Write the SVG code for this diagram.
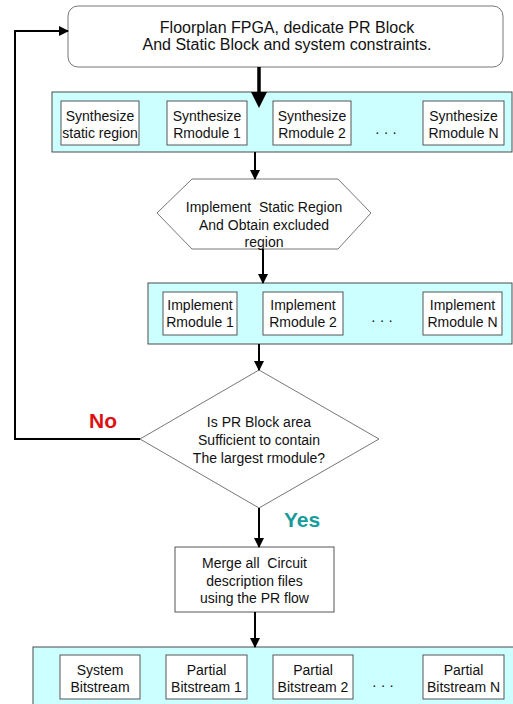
<svg xmlns="http://www.w3.org/2000/svg" width="513" height="704" viewBox="0 0 513 704">
<style>
text{font-family:"Liberation Sans",Arial,sans-serif;font-size:14px;fill:#111;text-anchor:middle;white-space:pre}
.big{font-size:16px}
.panel{fill:#ccffff;stroke:#4a4a4a;stroke-width:1}
.box{fill:#fff;stroke:#555;stroke-width:1}
.shape{fill:#fff;stroke:#777;stroke-width:1}
.conn{fill:none;stroke:#000;stroke-width:2}
.no{fill:#dd1111;font-size:21px;font-weight:bold;text-anchor:start}
.yes{fill:#179c9c;font-size:21px;font-weight:bold;text-anchor:start}
</style>
<defs>
<marker id="ah" markerWidth="10" markerHeight="10" refX="9" refY="5" orient="auto" markerUnits="userSpaceOnUse">
<path d="M0,0 L10,5 L0,10 Z" fill="#000"/>
</marker>
</defs>
<rect width="513" height="704" fill="#fff"/>

<g id="floorplan">
<rect class="shape" x="68" y="6" width="435" height="61" rx="10" ry="10" stroke="#666"/>
<text class="big" x="287" y="33">Floorplan FPGA, dedicate PR Block</text>
<text class="big" x="287" y="50">And Static Block and system constraints.</text>
</g>

<g id="synth-panel">
<rect class="panel" x="52" y="92" width="460" height="60"/>
<g id="synth-static"><rect class="box" x="61" y="101" width="78" height="44"/><text x="100" y="121">Synthesize</text><text x="100" y="138">static region</text></g>
<g id="synth-r1"><rect class="box" x="167" y="101" width="80" height="44"/><text x="207" y="121">Synthesize</text><text x="207" y="138">Rmodule 1</text></g>
<g id="synth-r2"><rect class="box" x="273" y="101" width="78" height="44"/><text x="312" y="121">Synthesize</text><text x="312" y="138">Rmodule 2</text></g>
<text x="386" y="137">· · ·</text>
<g id="synth-rn"><rect class="box" x="423" y="101" width="81" height="44"/><text x="463.5" y="121">Synthesize</text><text x="463.5" y="138">Rmodule N</text></g>
</g>

<g id="impl-static">
<polygon class="shape" points="157,213 192,179 338,179 371,213 338,249 192,249"/>
<text x="264" y="212" xml:space="preserve">Implement  Static Region</text>
<text x="264" y="230">And Obtain excluded</text>
<text x="264" y="247">region</text>
</g>

<g id="impl-panel">
<rect class="panel" x="148" y="283" width="364" height="61"/>
<g id="impl-r1"><rect class="box" x="163" y="292" width="74" height="43"/><text x="200" y="310">Implement</text><text x="200" y="327">Rmodule 1</text></g>
<g id="impl-r2"><rect class="box" x="263" y="292" width="80" height="43"/><text x="303" y="310">Implement</text><text x="303" y="327">Rmodule 2</text></g>
<text x="382" y="325">· · ·</text>
<g id="impl-rn"><rect class="box" x="423" y="292" width="79" height="43"/><text x="462.5" y="310">Implement</text><text x="462.5" y="327">Rmodule N</text></g>
</g>

<g id="decision">
<polygon class="shape" points="259,370 379,439 259,508 140,439"/>
<text x="259" y="427">Is PR Block area</text>
<text x="259" y="445">Sufficient to contain</text>
<text x="259" y="463">The largest rmodule?</text>
</g>

<g id="merge">
<rect class="box" x="175" y="547" width="159" height="65"/>
<text x="254.5" y="568" xml:space="preserve">Merge all  Circuit</text>
<text x="254.5" y="586">description files</text>
<text x="254.5" y="603">using the PR flow</text>
</g>

<g id="bit-panel">
<rect class="panel" x="33" y="647" width="485" height="62"/>
<g id="bit-sys"><rect class="box" x="60" y="655" width="80" height="44"/><text x="100" y="675">System</text><text x="100" y="692">Bitstream</text></g>
<g id="bit-p1"><rect class="box" x="166" y="655" width="81" height="44"/><text x="206.5" y="675">Partial</text><text x="206.5" y="692">Bitstream 1</text></g>
<g id="bit-p2"><rect class="box" x="273" y="655" width="80" height="44"/><text x="313" y="675">Partial</text><text x="313" y="692">Bitstream 2</text></g>
<text x="383" y="690">· · ·</text>
<g id="bit-pn"><rect class="box" x="423" y="655" width="81" height="44"/><text x="463.5" y="675">Partial</text><text x="463.5" y="692">Bitstream N</text></g>
</g>

<g id="connectors">
<line x1="259" y1="67" x2="259" y2="94" stroke="#000" stroke-width="3.5"/>
<polygon points="251,92 267,92 259,108" fill="#000"/>
<line class="conn" x1="255" y1="152" x2="255" y2="179" marker-end="url(#ah)"/>
<line class="conn" x1="263" y1="249" x2="263" y2="283" marker-end="url(#ah)"/>
<line class="conn" x1="259" y1="344" x2="259" y2="370" marker-end="url(#ah)"/>
<line class="conn" x1="259" y1="508" x2="259" y2="547" marker-end="url(#ah)"/>
<line class="conn" x1="255" y1="612" x2="255" y2="647" marker-end="url(#ah)"/>
<polyline class="conn" points="140,439 15,439 15,31 68,31" marker-end="url(#ah)"/>
</g>

<text class="no" x="89" y="428">No</text>
<text class="yes" x="284" y="527">Yes</text>
</svg>
